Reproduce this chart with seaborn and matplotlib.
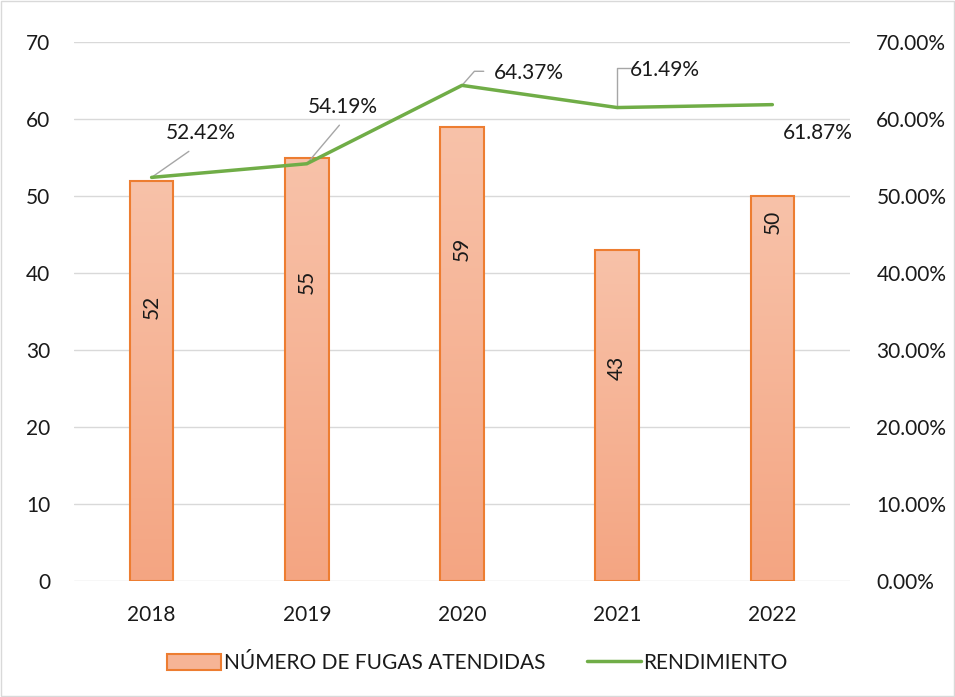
import numpy as np
import matplotlib.pyplot as plt
import seaborn as sns
import pandas as pd
from matplotlib.colors import LinearSegmentedColormap
from matplotlib.patches import Rectangle, Patch
from matplotlib.lines import Line2D

years = ["2018", "2019", "2020", "2021", "2022"]
fugas = [52, 55, 59, 43, 50]
rendimiento = [52.42, 54.19, 64.37, 61.49, 61.87]

# label placement (layout only)
bar_label_y = [35.6, 38.8, 43.2, 27.7, 46.6]
pct_text_xy = [(0.32, 58.2), (1.23, 61.6), (2.43, 66.0), (3.31, 66.4), (4.29, 58.2)]
leaders = [
    [(0, 52.42), (0.24, 55.8)],
    [(1, 54.19), (1.21, 59.2)],
    [(2, 64.37), (2.08, 66.2), (2.14, 66.2)],
    [(3, 61.49), (3, 66.6), (3.09, 66.6)],
    None,
]

sns.set_theme(style="white")
plt.rcParams['font.family'] = ['Lato', 'DejaVu Sans']
txt = '#1a1a1a'
fs = 15

fig = plt.figure(figsize=(9.55, 6.97), dpi=100)
ax = fig.add_axes([0.0775, 0.1664, 0.8125, 0.7733])

df = pd.DataFrame({"year": years, "fugas": fugas})
sns.barplot(data=df, x="year", y="fugas", ax=ax, width=0.28, color="#F6B496",
            edgecolor="#ED7D31", linewidth=1.5, zorder=3)

# gradient fill inside bars
cmap = LinearSegmentedColormap.from_list("g", ["#F4A582", "#F8C2A9"])
grad = np.linspace(0, 1, 256).reshape(-1, 1)
for p in ax.patches:
    x, w, h = p.get_x(), p.get_width(), p.get_height()
    im = ax.imshow(grad, extent=[x, x + w, 0, h], origin='lower', aspect='auto',
                   cmap=cmap, zorder=2.9)
    im.set_clip_path(p)
    p.set_facecolor('none')

ax.set_xlim(-0.5, 4.5)
ax.set_ylim(0, 70)
ax.set_yticks(range(0, 71, 10))
ax.set_xlabel("")
ax.set_ylabel("")
ax.yaxis.grid(True, color="#D9D9D9", lw=1)
ax.set_axisbelow(True)
for s in ax.spines.values():
    s.set_visible(False)
ax.tick_params(axis='y', labelsize=fs, colors=txt, pad=17, length=0)
ax.tick_params(axis='x', labelsize=fs, colors=txt, pad=17, length=0)

for i, v in enumerate(fugas):
    ax.text(i, bar_label_y[i], str(v), rotation=90, ha='center', va='center',
            fontsize=fs, color=txt, zorder=5)

ax2 = ax.twinx()
sns.lineplot(x=years, y=rendimiento, ax=ax2, color="#70AD47", lw=2.5, zorder=4)
ax2.set_ylim(0, 70)
ax2.set_yticks(range(0, 71, 10))
ax2.set_yticklabels([f"{t:.2f}%" for t in range(0, 71, 10)])
ax2.set_ylabel("")
for s in ax2.spines.values():
    s.set_visible(False)
ax2.tick_params(axis='y', labelsize=fs, colors=txt, pad=19, length=0)

for i, v in enumerate(rendimiento):
    tx, ty = pct_text_xy[i]
    ax2.text(tx, ty, f"{v:.2f}%", ha='center', va='center', fontsize=fs, color=txt)
    if leaders[i]:
        xs, ys = zip(*leaders[i])
        ax2.plot(xs, ys, color="#A6A6A6", lw=1, zorder=3)

handles = [Patch(facecolor="#F6B496", edgecolor="#ED7D31", lw=1.5),
           Line2D([0], [0], color="#70AD47", lw=2.5)]
fig.legend(handles, ["NÚMERO DE FUGAS ATENDIDAS", "RENDIMIENTO"], loc='center',
           bbox_to_anchor=(0.5, 0.049), ncol=2, frameon=False, fontsize=fs,
           handlelength=2.6, handleheight=0.8, columnspacing=2.0, handletextpad=0.12,
           labelcolor=txt)

fig.patches.append(Rectangle((0.001, 0.001), 0.998, 0.998, transform=fig.transFigure,
                             fill=False, edgecolor="#D9D9D9", lw=1))

fig.savefig("out.png", dpi=100)
